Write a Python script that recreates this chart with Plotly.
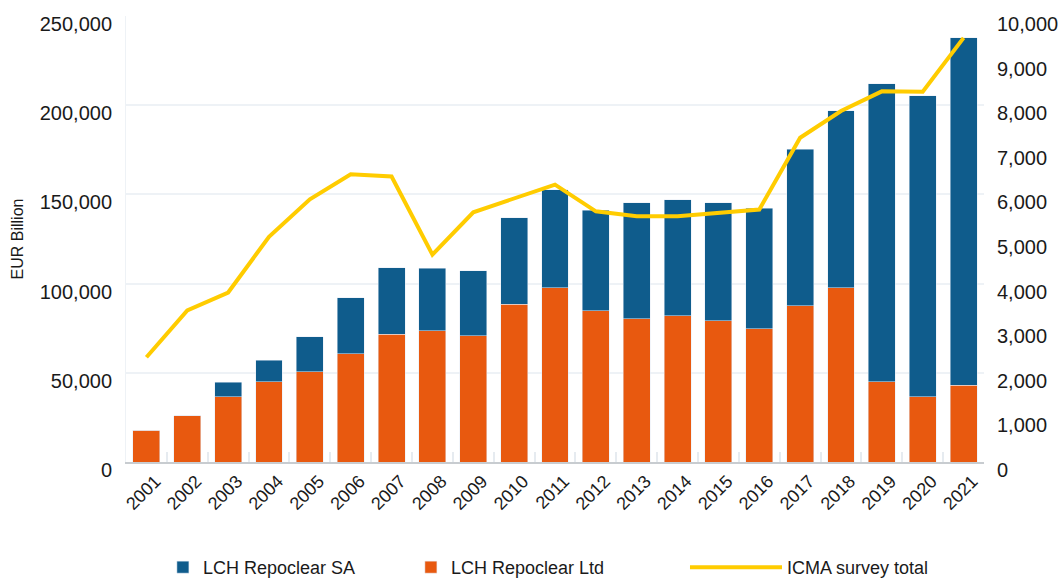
import plotly.graph_objects as go

years = [str(y) for y in range(2001, 2022)]

# orange part (bottom of stack)
ltd = [17700, 26000, 36700, 45100, 50700, 60800, 71500, 73700, 70900, 88300, 97800,
       84900, 80400, 82100, 79300, 74800, 87700, 97800, 45100, 36700, 42900]
# total height of each stacked bar
totals = [17700, 26000, 44600, 56900, 70300, 92200, 109000, 108500, 107300, 137000, 152700,
          141000, 145400, 147100, 145400, 142100, 175200, 197000, 212100, 205400, 237900]
sa = [t - l for t, l in zip(totals, ltd)]

icma = [2350, 3400, 3800, 5050, 5890, 6450, 6400, 4650, 5600, 5900, 6220,
        5620, 5510, 5510, 5590, 5660, 7270, 7870, 8310, 8300, 9510]

blue = '#0f5c8c'
orange = '#e8590f'
yellow = '#ffcc00'

fig = go.Figure()
fig.add_trace(go.Bar(x=years, y=ltd, name='LCH Repoclear Ltd', marker_color=orange, legendrank=2))
fig.add_trace(go.Bar(x=years, y=sa, name='LCH Repoclear SA', marker_color=blue, legendrank=1))
fig.add_trace(go.Scatter(x=years, y=icma, name='ICMA survey total', yaxis='y2', mode='lines',
                         line=dict(color=yellow, width=4), legend='legend2'))

fig.update_layout(
    barmode='stack', bargap=0.34,
    width=1059, height=578,
    margin=dict(l=126, r=75, t=16, b=116, autoexpand=False),
    paper_bgcolor='white', plot_bgcolor='white',
    font=dict(family='Liberation Sans, Arial, sans-serif', size=18, color='#1a1a1a'),
    showlegend=True,
    legend=dict(orientation='h', x=0.043, xanchor='left', y=-0.195, yanchor='top',
                entrywidth=203, entrywidthmode='pixels', itemwidth=30,
                font=dict(size=18), traceorder='normal'),
    legend2=dict(orientation='h', x=0.6515, xanchor='left', y=-0.195, yanchor='top',
                 itemwidth=92, font=dict(size=18)),
)
fig.update_xaxes(tickangle=-45, showline=True, linecolor='#c8ccd0', linewidth=1.5,
                 ticks='inside', tickson='boundaries', ticklen=10, tickcolor='#e6ebf0',
                 tickwidth=2, showgrid=False, automargin=False, ticklabelshift=9,
                 tickfont=dict(size=18))
fig.update_yaxes(range=[0, 250000], dtick=50000, tickformat=',', showgrid=True,
                 gridcolor='#eef2f6', gridwidth=1.5, showline=True, linecolor='#eef2f6',
                 title=dict(text='EUR Billion', font=dict(size=16), standoff=12),
                 zeroline=False, automargin=False, tickfont=dict(size=20),
                 ticklabelshift=8, ticklabelstandoff=9)
fig.update_layout(yaxis2=dict(overlaying='y', side='right', range=[0, 10000], dtick=1000,
                              tickformat=',', showgrid=False, zeroline=False,
                              automargin=False, tickfont=dict(size=20),
                              ticklabelshift=8, ticklabelstandoff=12))

# page has a default 8px body margin; remove it so the figure sits at the window corner
fig.write_html("out.html", config={'displayModeBar': False},
               post_script="document.body.style.margin='0';document.body.style.overflow='hidden';")
